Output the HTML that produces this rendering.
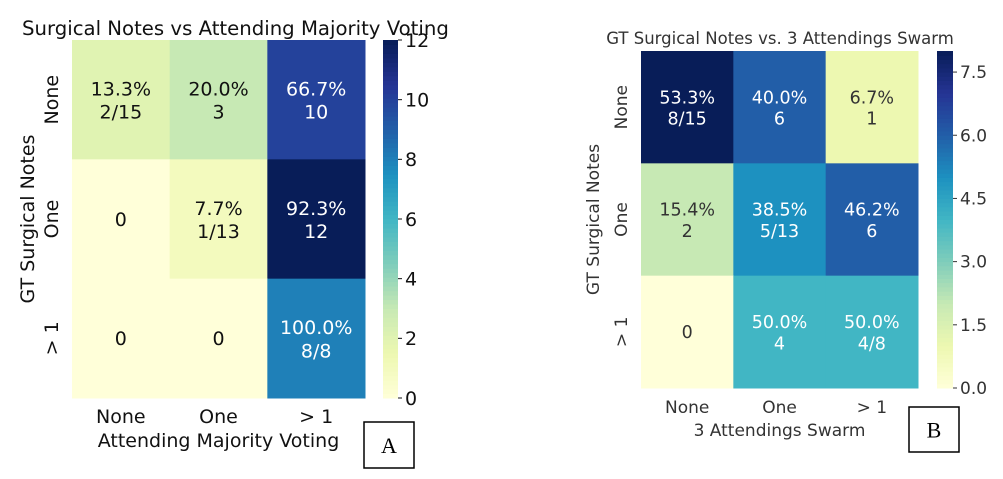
<!DOCTYPE html>
<html><head><meta charset="utf-8">
<style>
html,body{margin:0;padding:0;background:#fff;}
body{width:1003px;height:479px;overflow:hidden;position:relative;}
svg{position:absolute;left:0;top:0;font-family:"DejaVu Sans","Liberation Sans",sans-serif;}
</style></head>
<body>
<svg id="chart" width="1003" height="479" viewBox="0 0 1003 479"></svg>
<script>
const rowCats = ["None","One","> 1"];
const colCats = ["None","One","> 1"];
const valuesA = [[2,3,10],[0,1,12],[0,0,8]];
const labelsA = [["13.3%","2/15"],["20.0%","3"],["66.7%","10"],["0"],["7.7%","1/13"],["92.3%","12"],["0"],["0"],["100.0%","8/8"]];
const ticksA = [0,2,4,6,8,10,12];
const valuesB = [[8,6,1],[2,5,6],[0,4,4]];
const labelsB = [["53.3%","8/15"],["40.0%","6"],["6.7%","1"],["15.4%","2"],["38.5%","5/13"],["46.2%","6"],["0"],["50.0%","4"],["50.0%","4/8"]];
const ticksB = [0,1.5,3,4.5,6,7.5];
const tickLabelsB = ["0.0","1.5","3.0","4.5","6.0","7.5"];

const stops=["#ffffd9","#edf8b1","#c7e9b4","#7fcdbb","#41b6c4","#1d91c0","#225ea8","#253494","#081d58"];
function hex(h){return [1,3,5].map(i=>parseInt(h.substr(i,2),16));}
function cmap(t){t=Math.max(0,Math.min(1,t));const p=t*(stops.length-1);const i=Math.min(stops.length-2,Math.floor(p));const f=p-i;const a=hex(stops[i]),b=hex(stops[i+1]);return "rgb("+a.map((v,k)=>Math.round(v+(b[k]-v)*f)).join(",")+")";}
const svg=document.getElementById('chart');
const NS="http://www.w3.org/2000/svg";
function mk(tag,attrs,parent){const e=document.createElementNS(NS,tag);for(const k in attrs)e.setAttribute(k,attrs[k]);(parent||svg).appendChild(e);return e;}
function txt(s,attrs,parent){const e=mk('text',attrs,parent);e.textContent=s;return e;}

function heatmap(cfg){
  const g=mk('g',{});
  
  
  const cw=(cfg.x1-cfg.x0)/3, ch=(cfg.y1-cfg.y0)/3;
  const xs=c=>cfg.x0+c*cw, ys=r=>cfg.y0+r*ch;
  cfg.values.forEach((row,r)=>row.forEach((v,c)=>{
    const rect=mk('rect',{x:xs(c),y:ys(r),width:cw+0.5,height:ch+0.5,fill:cmap(v/cfg.vmax)},g);
    
    
    const lab=cfg.labels[r*3+c];
    const col=v/cfg.vmax>=0.45?"#fff":cfg.dark;
    const cx=xs(c)+cw/2, cy=ys(r)+ch/2;
    lab.forEach((s,i)=>{
      const dy=lab.length===1?cfg.cfs*0.36:(i===0?-cfg.cfs*0.22:cfg.cfs*1.0);
      const t=txt(s,{x:cx,y:cy+dy,'text-anchor':'middle','font-size':cfg.cfs,fill:col},g);
      
      
    });
  }));
  colCats.forEach((s,c)=>{const t=txt(s,{x:xs(c)+cw/2,y:cfg.y1+cfg.xtOff,'text-anchor':'middle','font-size':cfg.fs,fill:cfg.dark},g);
    });
  rowCats.forEach((s,r)=>{const yy=ys(r)+ch/2;const t=txt(s,{x:cfg.x0-cfg.ytOff,y:yy,'text-anchor':'middle','font-size':cfg.fs,fill:cfg.dark,transform:'rotate(-90 '+(cfg.x0-cfg.ytOff)+' '+yy+')'},g);
    });
  const cb=mk('g',{},g);
  
  
  const N=80;
  for(let i=0;i<N;i++){const y=cfg.y1-(i+1)*(cfg.y1-cfg.y0)/N;mk('rect',{x:cfg.cbx,y:y,width:cfg.cbw,height:(cfg.y1-cfg.y0)/N+0.5,fill:cmap((i+0.5)/N)},cb);}
  cfg.ticks.forEach((v,i)=>{const y=cfg.y1-v/cfg.vmax*(cfg.y1-cfg.y0);
    mk('line',{x1:cfg.cbx+cfg.cbw,x2:cfg.cbx+cfg.cbw+4,y1:y,y2:y,stroke:cfg.dark,'stroke-width':1},cb);
    const t=txt(cfg.tickLabels[i],{x:cfg.cbx+cfg.cbw+7,y:y+cfg.fs*0.36,'font-size':cfg.fs,fill:cfg.dark},cb);
    });
  const ti=txt(cfg.title,{x:cfg.tx,y:cfg.ty,'text-anchor':cfg.tanchor,'font-size':cfg.tfs,fill:cfg.dark},g);
  
  const xl=txt(cfg.xlabel,{x:(cfg.x0+cfg.x1)/2,y:cfg.y1+cfg.xlOff,'text-anchor':'middle','font-size':cfg.fs,fill:cfg.dark},g);
  
  const yx=cfg.ylx, yy=(cfg.y0+cfg.y1)/2;
  const yl=txt(cfg.ylabel,{x:yx,y:yy,'text-anchor':'middle','font-size':cfg.fs,fill:cfg.dark,transform:'rotate(-90 '+yx+' '+yy+')'},g);
  
  const bx=mk('rect',{x:cfg.box[0],y:cfg.box[1],width:cfg.box[2],height:cfg.box[3],fill:'#fff',stroke:'#000','stroke-width':1.5},g);
  
  const bl=txt(cfg.boxLabel,{x:cfg.box[0]+cfg.box[2]/2,y:cfg.box[1]+cfg.box[3]/2+8,'text-anchor':'middle','font-size':22,fill:'#000','font-family':'Liberation Serif,serif'},g);
  
}
heatmap({name:'heatmap-a',x0:72,x1:365,y0:40,y1:398,values:valuesA,labels:labelsA,vmax:12,ticks:ticksA,tickLabels:ticksA.map(String),
  fs:19,cfs:19,dark:'#111',cbx:383,cbw:15,title:'Surgical Notes vs Attending Majority Voting',tx:22,ty:35,tanchor:'start',tfs:19.7,
  xlabel:'Attending Majority Voting',ylabel:'GT Surgical Notes',xtOff:25,ytOff:14,xlOff:49,ylx:34,box:[364,422,50,46],boxLabel:'A'});
heatmap({name:'heatmap-b',x0:641,x1:918,y0:51,y1:388,values:valuesB,labels:labelsB,vmax:8,ticks:ticksB,tickLabels:tickLabelsB,
  fs:17,cfs:17.5,dark:'#333',cbx:937,cbw:16,title:'GT Surgical Notes vs. 3 Attendings Swarm',tx:780,ty:44,tanchor:'middle',tfs:16.5,
  xlabel:'3 Attendings Swarm',ylabel:'GT Surgical Notes',xtOff:25,ytOff:14,xlOff:48,ylx:599,box:[909,407,50,45],boxLabel:'B'});
</script>
</body></html>
